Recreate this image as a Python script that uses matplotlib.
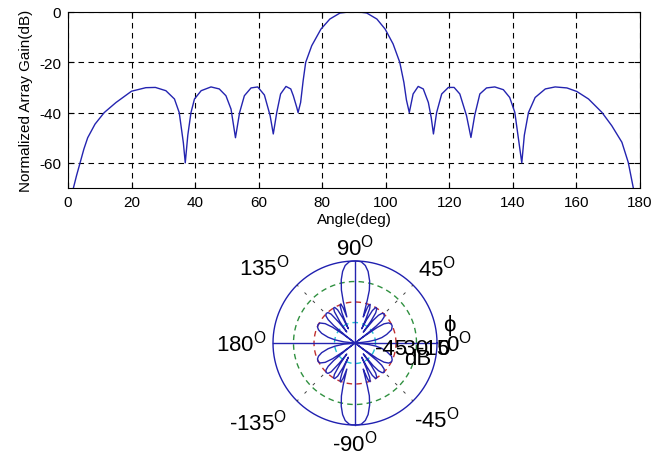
import numpy as np
import matplotlib
matplotlib.use("Agg")
import matplotlib.pyplot as plt

plt.rcParams['font.family'] = ['Liberation Sans', 'DejaVu Sans']
plt.rcParams['mathtext.fontset'] = 'custom'
plt.rcParams['mathtext.rm'] = 'Liberation Sans'
plt.rcParams['axes.unicode_minus'] = False

# array pattern (angle in deg, normalized gain in dB)
angle_deg = [1.5, 1.7, 2.7, 3.8, 5.0, 6.2, 8.5, 11.4, 15.1, 20.0, 24.5, 27.5,
             30.8, 33.5, 35.0, 36.3, 36.9, 37.7, 38.7, 39.8, 41.9, 45.0, 47.6,
             49.7, 51.3, 52.7, 54.0, 55.5, 57.6, 59.7, 61.8, 63.6, 64.6, 65.7,
             66.9, 68.6, 70.1, 70.9, 72.0, 72.4, 73.2, 74.0, 74.8, 76.7, 79.6,
             82.4, 85.6, 88.0, 90.0, 92.0, 94.0, 97.2, 99.8, 102.3, 104.4,
             105.7, 106.5, 107.4, 108.6, 110.2, 111.8, 113.4, 114.3, 115.0,
             116.0, 117.6, 119.7, 121.5, 123.3, 125.4, 126.8, 128.0, 129.6,
             131.7, 134.3, 137.0, 139.0, 140.6, 141.9, 142.8, 143.6, 144.9,
             147.0, 150.2, 153.3, 157.0, 160.1, 163.8, 168.0, 171.1, 174.3,
             176.3, 177.9, 178.5]
gain_db = [-72, -70, -65, -60, -54.5, -50, -44.6, -40, -36, -31.5, -30.1, -30,
           -31.3, -34.6, -40, -52, -60, -49, -40, -34.6, -31.3, -29.8, -30.6,
           -33.3, -38.6, -50, -40, -33.3, -30.2, -29.8, -33, -41.2, -48.5, -39.9,
           -32.6, -29.6, -30.6, -33.3, -38, -40, -36, -27.3, -20, -13.4, -6.8,
           -2.8, -0.4, -0.05, 0, -0.05, -0.4, -2.8, -6.8, -12.7, -20,
           -28, -35, -40, -32.6, -29.6, -30.6, -36, -42, -48.5,
           -40, -32.6, -30, -30, -32.6, -41.2, -49.9, -41, -32.6,
           -30.2, -29.8, -30.9, -34, -39.9, -51.8, -60, -49, -40,
           -34, -30.6, -29.8, -30.2, -31.6, -34.6, -39.9, -45.2, -51.8,
           -59.8, -70, -72]

x_ticks = [0, 20, 40, 60, 80, 100, 120, 140, 160, 180]
y_ticks = [-60, -40, -20, 0]
ring_db = [-45, -30, -15, 0]
ring_colors = ['#20c0d0', '#c03030', '#309040', '#2020b0']
floor_db = -60

line_color = '#2424b0'

fig = plt.figure(figsize=(6.69, 4.56), dpi=100)

# ---- top: rectangular pattern ----
ax = fig.add_axes([68 / 669, 1 - 189 / 456, 572 / 669, 176 / 456])
ax.plot(angle_deg, gain_db, color=line_color, lw=1.0)
ax.set_xlim(0, 180)
ax.set_ylim(-70, 0)
ax.set_xticks(x_ticks)
ax.set_yticks(y_ticks)
ax.grid(True, color='black', linestyle=(0, (5, 4)), lw=0.8)
ax.tick_params(direction='in', length=4, top=True, right=True,
               labelsize=11, pad=5)
ax.set_xlabel('Angle(deg)', fontsize=11, labelpad=2)
ax.set_ylabel('Normalized Array Gain(dB)', fontsize=11, labelpad=4)
for s in ax.spines.values():
    s.set_linewidth(0.8)

# ---- bottom: polar dB plot ----
rmax = 1.03
half = 82 * rmax
pax = fig.add_axes([(355 - half) / 669, (456 - 344 - half) / 456,
                    2 * half / 669, 2 * half / 456], projection='polar')
pax.set_ylim(0, rmax)
pax.axis('off')

th = np.linspace(0, 2 * np.pi, 361)
for db, c in zip(ring_db, ring_colors):
    r = (db - floor_db) / -floor_db
    ls = '-' if db == 0 else (0, (4, 3))
    pax.plot(th, np.full_like(th, r), color=c, lw=1.0, ls=ls)

# spokes
for t in [0, np.pi / 2, np.pi, 3 * np.pi / 2]:
    pax.plot([t, t], [0, 1], color=line_color, lw=1.0)
for t in np.deg2rad([45, 135, 225, 315]):
    pax.plot([t, t], [0.55, 1.0], color='#404040', lw=0.7, ls=(0, (3, 9)))

a = np.deg2rad(np.array(angle_deg))
rr = np.clip((np.array(gain_db) - floor_db) / -floor_db, 0, None)
theta_all = np.concatenate([a, 2 * np.pi - a[::-1]])
r_all = np.concatenate([rr, rr[::-1]])
pax.plot(theta_all, r_all, color=line_color, lw=1.0)

deg = r'$^{\mathrm{O}}$'
angle_labels = [(90, 1.18, '90'), (139.8, 1.44, '135'), (42.8, 1.36, '45'),
                (180, 1.39, '180'), (0, 1.27, '0'), (-141.2, 1.52, '-135'),
                (-42.8, 1.36, '-45'), (-90, 1.21, '-90')]
for t, r, lab in angle_labels:
    pax.text(np.deg2rad(t), r, lab + deg, fontsize=16, ha='center',
             va='center')

for db in ring_db:
    r = (db - floor_db) / -floor_db
    pax.annotate(str(db), xy=(0, r), xytext=(0, -6),
                 textcoords='offset pixels', fontsize=16,
                 ha='left', va='center')
pax.annotate('dB', xy=(0, 0.77), xytext=(0, -16), textcoords='offset pixels',
             fontsize=16, ha='center', va='center')
pax.annotate('ϕ', xy=(0, 1.0), xytext=(12, 18), textcoords='offset pixels',
             fontsize=16, ha='center', va='center')

fig.savefig('out.png', dpi=100)
